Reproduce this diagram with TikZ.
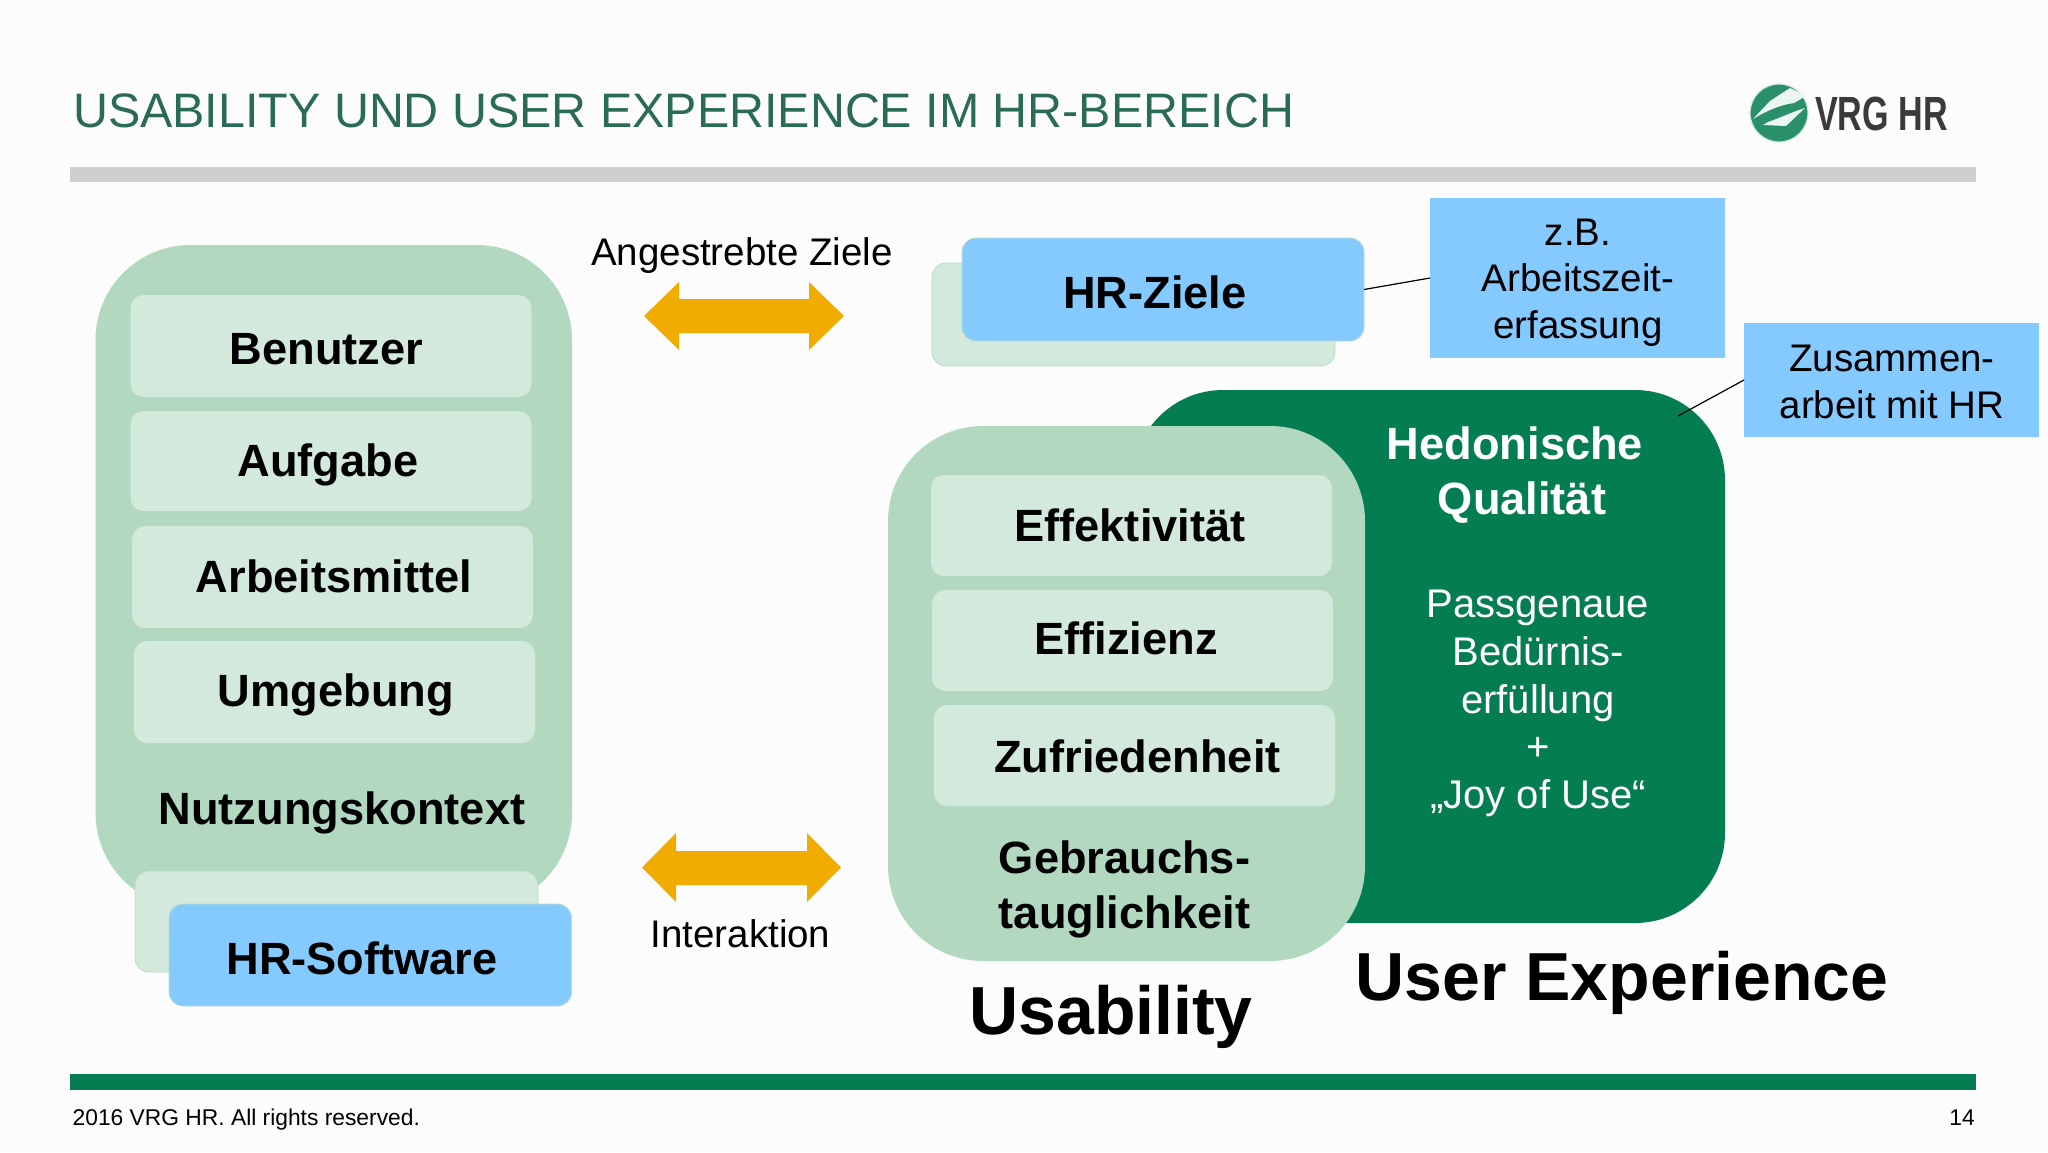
\documentclass[tikz,border=0pt]{standalone}
\usepackage{fontspec}
\setmainfont{Liberation Sans}
\definecolor{panelg}{HTML}{B3D8C0}
\definecolor{innerg}{HTML}{D2E9DC}
\definecolor{edgeg}{HTML}{B8DCC8}
\definecolor{skyb}{HTML}{85CAFF}
\definecolor{darkg}{HTML}{047D50}
\definecolor{orangeb}{HTML}{F0AC00}
\definecolor{grayb}{HTML}{D0CECE}
\definecolor{titleg}{HTML}{2A6B58}
\definecolor{logot}{HTML}{3A3A3A}
\newcommand{\fs}[1]{\fontsize{#1}{#1}\selectfont}
% name, x1, y1, x2, y2, style
\newcommand{\bx}[6]{\pgfmathsetmacro{\bw}{#4-#2}\pgfmathsetmacro{\bh}{#5-#3}%
  \node[#6,anchor=north west,inner sep=0pt,outer sep=0pt,minimum width=\bw pt,minimum height=\bh pt] (#1) at (#2,#3) {};}
\tikzset{
  x=1pt,y=-1pt,
  bigpanel/.style={fill=panelg,rounded corners=95pt},
  dkpanel/.style={fill=darkg,rounded corners=90pt},
  inner box/.style={fill=innerg,rounded corners=13pt},
  shadowbox/.style={fill=innerg,draw=edgeg,line width=0.8pt,rounded corners=14pt},
  skybox/.style={fill=skyb,draw=edgeg,line width=0.8pt,rounded corners=14pt},
  note/.style={fill=skyb},
  twoarrow/.style={fill=orangeb},
  lead/.style={draw=black,line width=1.2pt},
  hd/.style={anchor=base,inner sep=0pt,font=\fs{45.2}\bfseries,text=black},
  hdw/.style={hd,text=white},
  big/.style={anchor=base,inner sep=0pt,font=\fs{68}\bfseries,text=black},
  lab/.style={anchor=base,inner sep=0pt,font=\fs{38.5},text=black},
  labw/.style={anchor=base,inner sep=0pt,font=\fs{40},text=white},
  foot/.style={inner sep=0pt,font=\fs{22.8},text=black},
}
\begin{document}
\begin{tikzpicture}
\useasboundingbox (0,0) rectangle (2048,1152);
\fill[white!99!black] (0,0) rectangle (2048,1152);
% header
\node[anchor=base west,inner sep=0pt,font=\fs{48.4},text=titleg] (title) at (73,127) {USABILITY UND USER EXPERIENCE IM HR-BEREICH};
\bx{headbar}{70}{167}{1976}{182}{fill=grayb}
\bx{footbar}{70}{1074}{1976}{1090}{fill=darkg}
\node[foot,anchor=base west] (copy) at (72.5,1125) {2016 VRG HR. All rights reserved.};
\node[foot,anchor=base east] (pageno) at (1975,1125) {14};
% logo
\node[circle,fill=darkg!85!white,draw=innerg,line width=1.2pt,minimum size=58pt,inner sep=0pt] (logo) at (1779,113) {};
\fill[white!92!darkg] (1790,88) -- (1806,96) -- (1794,103) .. controls (1780,105) and (1768,110) .. (1753,119) -- (1770,101) -- cycle;
\fill[white!92!darkg] (1805,108) -- (1786,126) -- (1763,125) -- (1768,122) .. controls (1780,118) and (1792,112) .. (1805,108) -- cycle;
\node[anchor=base west,inner sep=0pt,font=\fs{48}\bfseries,text=logot,xscale=.71] (logotxt) at (1815,130) {VRG HR};
% left group
\bx{ctx}{95.5}{245}{572}{908}{bigpanel}
\bx{benutzerbox}{130.5}{295}{531.5}{397}{inner box}
\bx{aufgabebox}{130.5}{411}{531.5}{511}{inner box}
\bx{mittelbox}{132}{526}{533}{628}{inner box}
\bx{umgebungbox}{134}{641}{535}{743}{inner box}
\bx{softshadow}{135}{871}{538}{972}{shadowbox}
\bx{softbox}{169}{904}{571.5}{1006}{skybox}
\node[hd] (benutzer) at (326.5,364) {Benutzer};
\node[hd] (aufgabe) at (328,476) {Aufgabe};
\node[hd] (mittel) at (334,592) {Arbeitsmittel};
\node[hd] (umgebung) at (336,706) {Umgebung};
\node[hd] (nutzung) at (342,824.5) {Nutzungskontext};
\node[hd] (software) at (362,974) {HR-Software};
% arrows
\fill[twoarrow] (644,316) -- (679,282) -- (679,299) -- (809,299) -- (809,282) -- (844,316) -- (809,350) -- (809,333) -- (679,333) -- (679,350) -- cycle;
\fill[twoarrow] (642,867.5) -- (676,833) -- (676,851) -- (807,851) -- (807,833) -- (841,867.5) -- (807,902) -- (807,885) -- (676,885) -- (676,902) -- cycle;
\node[lab] (ziele) at (742,265) {Angestrebte Ziele};
\node[lab] (interaktion) at (740.5,947) {Interaktion};
% HR-Ziele
\bx{zielshadow}{932}{263}{1335}{366}{shadowbox}
\bx{zielbox}{962}{238}{1364}{341}{skybox}
\node[hd] (hrziele) at (1155,308) {HR-Ziele};
\bx{zbbox}{1430}{198}{1725}{358}{note}
\node[lab] (zb1) at (1578,245) {z.B.};
\node[lab] (zb2) at (1578,291) {Arbeitszeit-};
\node[lab] (zb3) at (1578,338) {erfassung};
\draw[lead] (zielbox.east) -- (zbbox.west);
% UX
\bx{uxpanel}{1133}{390}{1725}{923}{dkpanel}
\coordinate (uxedge) at (1678,416);
\bx{zusbox}{1744}{323}{2039}{437}{note}
\node[lab] (zus1) at (1892,371) {Zusammen-};
\node[lab] (zus2) at (1892,418) {arbeit mit HR};
\draw[lead] (zusbox.west) -- (uxedge);
\node[hdw] (hed1) at (1515,459) {Hedonische};
\node[hdw] (hed2) at (1522,514) {Qualität};
\node[labw] (p1) at (1538,617) {Passgenaue};
\node[labw] (p2) at (1538,665) {Bedürnis-};
\node[labw] (p3) at (1538,713) {erfüllung};
\node[labw] (p4) at (1538,760) {+};
\node[labw] (p5) at (1538,808) {„Joy of Use“};
% usability
\bx{usepanel}{888}{426}{1365}{961}{bigpanel}
\bx{effbox}{931}{475}{1332}{576}{inner box}
\bx{effzbox}{932}{590}{1333}{691}{inner box}
\bx{zufbox}{934}{705}{1335}{806}{inner box}
\node[hd] (eff) at (1130,541) {Effektivität};
\node[hd] (effz) at (1126,654) {Effizienz};
\node[hd] (zuf) at (1137.5,772) {Zufriedenheit};
\node[hd] (geb1) at (1124.5,873) {Gebrauchs-};
\node[hd] (geb2) at (1124.5,928) {tauglichkeit};
\node[big] (usab) at (1111,1034) {Usability};
\node[big] (uxt) at (1622,1000) {User Experience};
\end{tikzpicture}
\end{document}
